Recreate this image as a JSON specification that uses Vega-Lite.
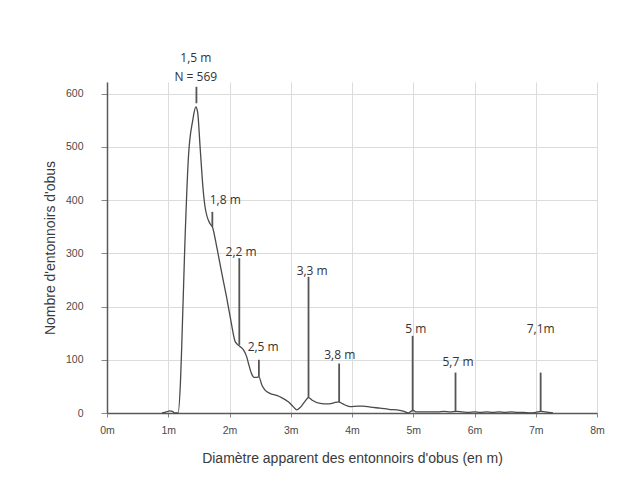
{
  "$schema": "https://vega.github.io/schema/vega-lite/v6.json",
  "autosize": {"type": "none"},
  "padding": {"left": 107, "top": 82, "right": 46, "bottom": 72},
  "width": 490,
  "height": 331,
  "background": "white",
  "config": {
    "view": {"stroke": null},
    "font": "Liberation Sans",
    "axis": {
      "domainColor": "#5a5a5a",
      "tickColor": "#888",
      "gridColor": "#dcdcdc",
      "labelColor": "#4a4a4a",
      "titleColor": "#3a3a3a",
      "labelFontSize": 10.5,
      "titleFontSize": 14,
      "titleFontWeight": "normal",
      "labelFlush": false
    }
  },
  "datasets": {
    "curve": [
      {"d": 0.9, "n": 0}, {"d": 0.97, "n": 2}, {"d": 1.02, "n": 4}, {"d": 1.07, "n": 3}, {"d": 1.1, "n": 0},
      {"d": 1.16, "n": 0}, {"d": 1.2, "n": 60}, {"d": 1.22, "n": 125}, {"d": 1.27, "n": 313}, {"d": 1.33, "n": 482},
      {"d": 1.4, "n": 550}, {"d": 1.45, "n": 575}, {"d": 1.48, "n": 565}, {"d": 1.52, "n": 500}, {"d": 1.57, "n": 419},
      {"d": 1.6, "n": 388}, {"d": 1.68, "n": 356}, {"d": 1.72, "n": 350}, {"d": 1.79, "n": 313}, {"d": 1.87, "n": 265},
      {"d": 1.95, "n": 219}, {"d": 2.02, "n": 175}, {"d": 2.09, "n": 135}, {"d": 2.12, "n": 130}, {"d": 2.17, "n": 125},
      {"d": 2.23, "n": 118}, {"d": 2.28, "n": 106}, {"d": 2.31, "n": 93}, {"d": 2.36, "n": 74}, {"d": 2.4, "n": 67},
      {"d": 2.44, "n": 67}, {"d": 2.48, "n": 68}, {"d": 2.53, "n": 52}, {"d": 2.58, "n": 43}, {"d": 2.66, "n": 37},
      {"d": 2.77, "n": 33}, {"d": 2.85, "n": 29}, {"d": 2.96, "n": 21}, {"d": 3.04, "n": 12}, {"d": 3.1, "n": 6},
      {"d": 3.16, "n": 11}, {"d": 3.22, "n": 20}, {"d": 3.29, "n": 29}, {"d": 3.35, "n": 24}, {"d": 3.48, "n": 18},
      {"d": 3.6, "n": 17}, {"d": 3.7, "n": 19}, {"d": 3.78, "n": 21}, {"d": 3.85, "n": 17}, {"d": 3.97, "n": 12},
      {"d": 4.1, "n": 13}, {"d": 4.18, "n": 13}, {"d": 4.3, "n": 11}, {"d": 4.46, "n": 9}, {"d": 4.6, "n": 7},
      {"d": 4.78, "n": 5}, {"d": 4.85, "n": 3}, {"d": 4.92, "n": 0}, {"d": 4.96, "n": 3}, {"d": 5.0, "n": 5},
      {"d": 5.05, "n": 2}, {"d": 5.2, "n": 2}, {"d": 5.4, "n": 2}, {"d": 5.5, "n": 3}, {"d": 5.6, "n": 2},
      {"d": 5.7, "n": 3}, {"d": 5.8, "n": 2}, {"d": 5.9, "n": 1}, {"d": 6.0, "n": 2}, {"d": 6.1, "n": 1},
      {"d": 6.2, "n": 2}, {"d": 6.3, "n": 1}, {"d": 6.4, "n": 2}, {"d": 6.5, "n": 1}, {"d": 6.6, "n": 2},
      {"d": 6.7, "n": 1}, {"d": 6.8, "n": 1}, {"d": 6.9, "n": 0}, {"d": 7.0, "n": 1}, {"d": 7.08, "n": 3},
      {"d": 7.15, "n": 2}, {"d": 7.28, "n": 0}
    ],
    "markers": [
      {"d": 1.46, "lo": 582, "hi": 613},
      {"d": 1.72, "lo": 350, "hi": 378},
      {"d": 2.16, "lo": 128, "hi": 291},
      {"d": 2.48, "lo": 68, "hi": 100},
      {"d": 3.29, "lo": 28, "hi": 256},
      {"d": 3.79, "lo": 20, "hi": 93},
      {"d": 4.99, "lo": 3, "hi": 145},
      {"d": 5.69, "lo": 3, "hi": 76},
      {"d": 7.08, "lo": 3, "hi": 76}
    ],
    "labels": [
      {"d": 1.45, "n": 667, "t": "1,5 m"},
      {"d": 1.45, "n": 632, "t": "N = 569"},
      {"d": 1.93, "n": 400, "t": "1,8 m"},
      {"d": 2.19, "n": 303, "t": "2,2 m"},
      {"d": 2.55, "n": 124, "t": "2,5 m"},
      {"d": 3.35, "n": 267, "t": "3,3 m"},
      {"d": 3.8, "n": 109, "t": "3,8 m"},
      {"d": 5.04, "n": 158, "t": "5 m"},
      {"d": 5.73, "n": 96, "t": "5,7 m"},
      {"d": 7.08, "n": 158, "t": "7,1m"}
    ]
  },
  "layer": [
    {
      "data": {"name": "curve"},
      "mark": {"type": "line", "color": "#4a4a4a", "strokeWidth": 1.3, "interpolate": "monotone"},
      "encoding": {
        "x": {
          "field": "d", "type": "quantitative",
          "scale": {"domain": [0, 8], "nice": false, "zero": true},
          "axis": {
            "values": [0, 1, 2, 3, 4, 5, 6, 7, 8],
            "labelExpr": "datum.value + 'm'",
            "tickSize": 4,
            "labelPadding": 8,
            "title": "Diamètre apparent des entonnoirs d'obus (en m)",
            "titlePadding": 16,
            "domainWidth": 1.5
          }
        },
        "y": {
          "field": "n", "type": "quantitative",
          "scale": {"domain": [0, 622], "nice": false},
          "axis": {
            "values": [0, 100, 200, 300, 400, 500, 600],
            "tickSize": 6,
            "labelPadding": 18,
            "title": "Nombre d'entonnoirs d'obus",
            "titlePadding": 8,
            "domainWidth": 1.5
          }
        }
      }
    },
    {
      "data": {"name": "markers"},
      "mark": {"type": "rule", "color": "#555", "strokeWidth": 1.8},
      "encoding": {
        "x": {"field": "d", "type": "quantitative"},
        "y": {"field": "lo", "type": "quantitative"},
        "y2": {"field": "hi"}
      }
    },
    {
      "data": {"name": "labels"},
      "mark": {"type": "text", "font": "Open Sans", "fontSize": 12, "color": "#333", "align": "center", "baseline": "middle", "clip": false},
      "encoding": {
        "x": {"field": "d", "type": "quantitative"},
        "y": {"field": "n", "type": "quantitative"},
        "text": {"field": "t"}
      }
    }
  ]
}
